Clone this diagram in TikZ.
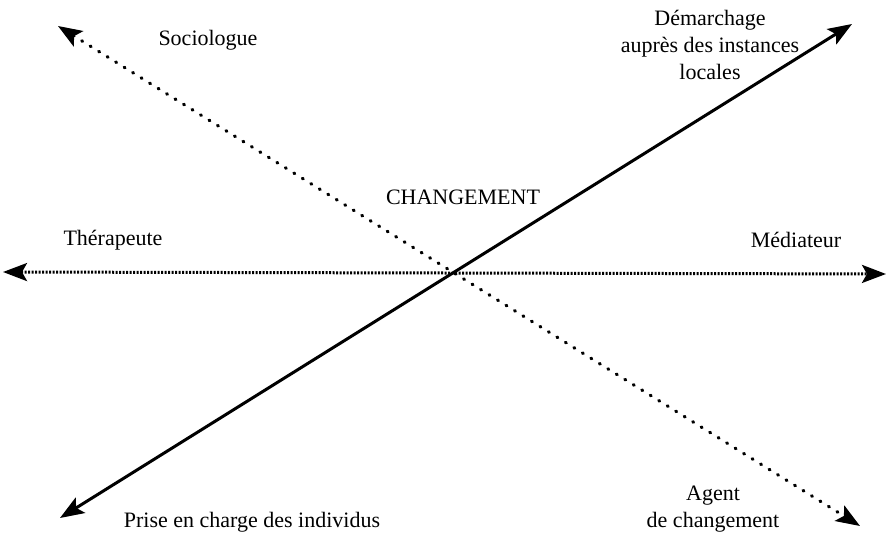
\documentclass[tikz,border=0pt]{standalone}
\usepackage{fontspec}
\setmainfont{Liberation Serif}
\usetikzlibrary{arrows.meta}
\begin{document}
\begin{tikzpicture}[x=1pt,y=-1pt,
  lbl/.style={font=\fontsize{22}{27}\selectfont, align=center, inner sep=0pt},
  tip/.style={{Stealth[length=24pt,width=18pt,inset=5pt]}-{Stealth[length=24pt,width=18pt,inset=5pt]}},
  solidaxis/.style={tip, line width=3pt},
  sparsedots/.style={tip, line width=3.2pt, line cap=round, dash pattern=on 1pt off 9pt},
  densedots/.style={tip, line width=3pt, dash pattern=on 2pt off 1.5pt}]
  \useasboundingbox (0,0) rectangle (888,540);
  % axis end points
  \coordinate (soc) at (58,26);
  \coordinate (agt) at (860,526);
  \coordinate (ind) at (60,518);
  \coordinate (dem) at (852,24);
  \coordinate (the) at (3,272);
  \coordinate (med) at (886,274);
  % axes
  \draw[sparsedots] (soc) -- (agt);
  \draw[solidaxis] (ind) -- (dem);
  \draw[densedots] (the) -- (med);
  % labels
  \node[lbl] (lsoc) at (208,40) {Sociologue};
  \node[lbl] (ldem) at (710,45) {Démarchage\\auprès des instances\\locales};
  \node[lbl] (lchg) at (463,197) {CHANGEMENT};
  \node[lbl] (lthe) at (113,240) {Thérapeute};
  \node[lbl] (lmed) at (796,240) {Médiateur};
  \node[lbl] (lind) at (252,522) {Prise en charge des individus};
  \node[lbl] (lagt) at (713,509) {Agent\\de changement};
\end{tikzpicture}
\end{document}
